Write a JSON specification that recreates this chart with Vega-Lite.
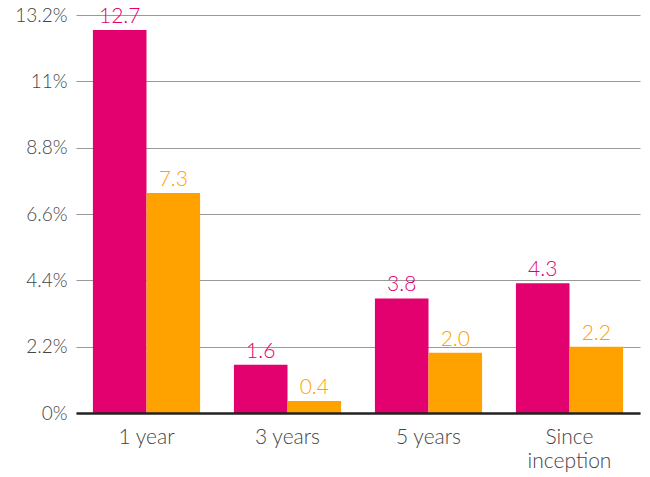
{
  "$schema": "https://vega.github.io/schema/vega-lite/v6.json",
  "width": 564,
  "height": 398,
  "autosize": {"type": "none"},
  "padding": {"left": 76, "top": 15, "right": 10, "bottom": 64},
  "background": "white",
  "config": {"view": {"stroke": null}, "font": "Lato"},
  "data": {
    "values": [
      {"period": "1 year", "series": "A", "value": 12.7},
      {"period": "1 year", "series": "B", "value": 7.3},
      {"period": "3 years", "series": "A", "value": 1.6},
      {"period": "3 years", "series": "B", "value": 0.4},
      {"period": "5 years", "series": "A", "value": 3.8},
      {"period": "5 years", "series": "B", "value": 2.0},
      {"period": "Since inception", "series": "A", "value": 4.3},
      {"period": "Since inception", "series": "B", "value": 2.2}
    ]
  },
  "encoding": {
    "x": {
      "field": "period",
      "type": "nominal",
      "sort": null,
      "scale": {"paddingInner": 0.24, "paddingOuter": 0.12},
      "axis": {
        "title": null,
        "labelAngle": 0,
        "labelFontSize": 21,
        "labelFontWeight": 300,
        "labelColor": "#444444",
        "labelPadding": 13,
        "labelLineHeight": 24,
        "labelExpr": "datum.label == 'Since inception' ? ['Since', 'inception'] : datum.label",
        "ticks": false,
        "domain": true,
        "domainColor": "#222222",
        "domainWidth": 2.5,
        "grid": false,
        "zindex": 1
      }
    },
    "xOffset": {"field": "series", "type": "nominal"},
    "y": {
      "field": "value",
      "type": "quantitative",
      "scale": {"domain": [0, 13.2], "nice": false},
      "axis": {
        "title": null,
        "values": [0, 2.2, 4.4, 6.6, 8.8, 11, 13.2],
        "labelExpr": "datum.value + '%'",
        "labelFontSize": 19,
        "labelFontWeight": 300,
        "labelColor": "#444444",
        "labelPadding": 9,
        "ticks": false,
        "domain": false,
        "grid": true,
        "gridColor": "#999999",
        "gridWidth": 1
      }
    },
    "color": {
      "field": "series",
      "type": "nominal",
      "scale": {"domain": ["A", "B"], "range": ["#e3006f", "#ffa200"]},
      "legend": null
    }
  },
  "layer": [
    {"mark": {"type": "bar"}},
    {
      "mark": {"type": "text", "baseline": "bottom", "dy": -3, "fontSize": 21, "fontWeight": 300},
      "encoding": {
        "text": {"field": "value", "type": "quantitative", "format": ".1f"},
        "color": {
          "field": "series",
          "type": "nominal",
          "scale": {"domain": ["A", "B"], "range": ["#e3006f", "#ffa200"]},
          "legend": null
        }
      }
    }
  ]
}
